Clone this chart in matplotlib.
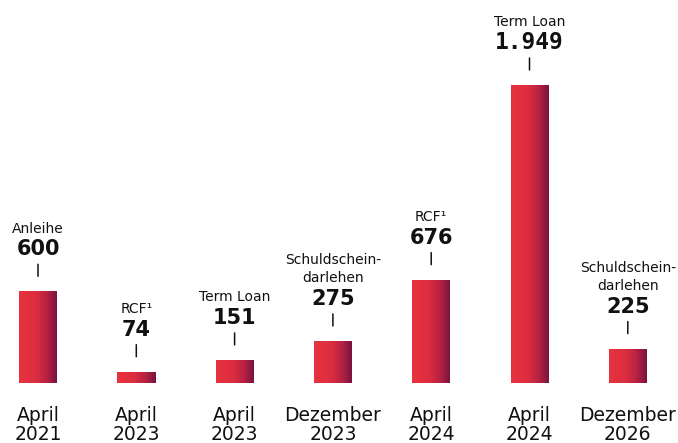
import numpy as np
import matplotlib
matplotlib.use("Agg")
import matplotlib.pyplot as plt
from matplotlib.colors import LinearSegmentedColormap
from matplotlib.transforms import offset_copy

months = ["April", "April", "April", "Dezember", "April", "April", "Dezember"]
years = ["2021", "2023", "2023", "2023", "2024", "2024", "2026"]
instruments = [["Anleihe"], ["RCF¹"], ["Term Loan"], ["Schuldschein-", "darlehen"],
               ["RCF¹"], ["Term Loan"], ["Schuldschein-", "darlehen"]]
values = [600, 74, 151, 275, 676, 1949, 225]
value_labels = ["600", "74", "151", "275", "676", "1.949", "225"]

W, H, DPI = 678, 443, 100
fig = plt.figure(figsize=(W / DPI, H / DPI), dpi=DPI)
base_px = 60
ax = fig.add_axes([0, base_px / H, 1, 1 - base_px / H])
ax.set_axis_off()

spacing_px = 98.3
first_px = 38
ax.set_xlim(-first_px / spacing_px, (W - first_px) / spacing_px)
px_per_unit = 298 / 1949
ax.set_ylim(0, (H - base_px) / px_per_unit)

cmap = LinearSegmentedColormap.from_list(
    "grad", [(0, "#e8323f"), (0.45, "#dc2d40"), (0.75, "#b42142"), (1, "#781340")])
grad = np.linspace(0, 1, 256).reshape(1, -1)

x = np.arange(len(values))
bw = 38 / spacing_px
bars = ax.bar(x, values, width=bw, color="none", edgecolor="none")
for b in bars:
    x0, w, h = b.get_x(), b.get_width(), b.get_height()
    im = ax.imshow(grad, cmap=cmap, extent=[x0, x0 + w, 0, h], aspect="auto",
                   interpolation="bicubic", zorder=2)
    im.set_clip_path(b)

pt = 72 / DPI
for xi, v, lab, inst in zip(x, values, value_labels, instruments):
    ax.annotate("", xy=(xi, v), xycoords=offset_copy(ax.transData, fig, x=0, y=15 * pt, units="points"),
                xytext=(xi, v), textcoords=offset_copy(ax.transData, fig, x=0, y=27 * pt, units="points"),
                arrowprops=dict(arrowstyle="-", lw=1.1, color="#111111", shrinkA=0, shrinkB=0))
    if lab == "1.949":
        fam, fw, fs = "DejaVu Sans Mono", "bold", 16.5
    else:
        fam, fw, fs = "DejaVu Sans", "bold", 15
    ax.annotate(lab, xy=(xi, v), xytext=(0, 36 * pt), textcoords="offset points",
                ha="center", va="baseline", fontsize=fs, fontweight=fw, family=fam,
                color="#111111")
    for k, line in enumerate(reversed(inst)):
        ax.annotate(line, xy=(xi, v), xytext=(0, (58.5 + 18 * k) * pt), textcoords="offset points",
                    ha="center", va="baseline", fontsize=10, color="#111111")

for xi, m, y in zip(x, months, years):
    ax.annotate(m, xy=(xi, 0), xytext=(0, -38 * pt), textcoords="offset points",
                ha="center", va="baseline", fontsize=13.5, color="#111111", annotation_clip=False)
    ax.annotate(y, xy=(xi, 0), xytext=(0, -57 * pt), textcoords="offset points",
                ha="center", va="baseline", fontsize=13.5, color="#111111", annotation_clip=False)

fig.savefig("out.png", dpi=DPI)
